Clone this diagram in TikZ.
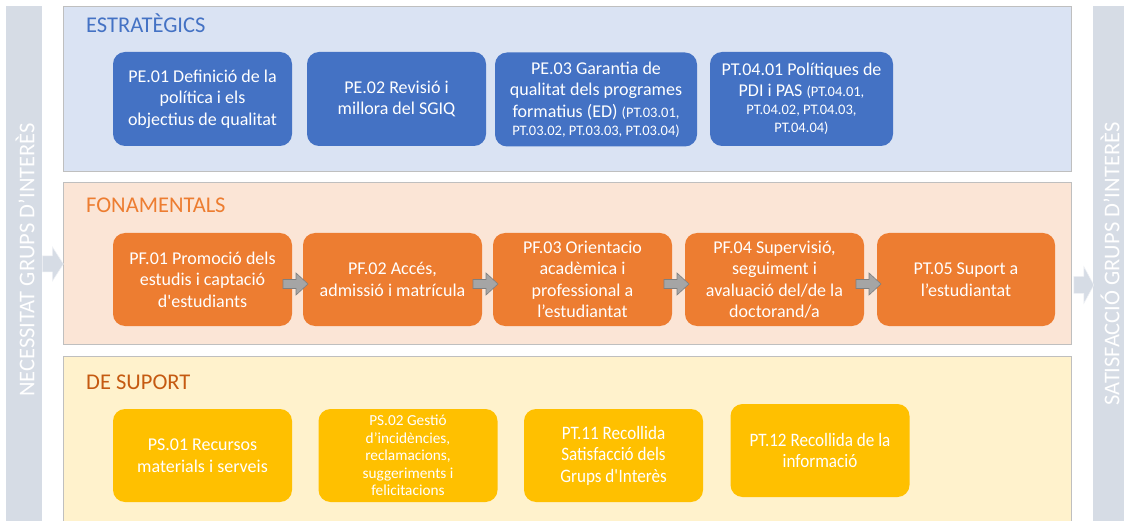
\documentclass[tikz,border=0pt]{standalone}
\usepackage{fontspec}
\setmainfont{Carlito}
\newfontfamily\narrowfont[FakeStretch=0.9]{Carlito}
\usetikzlibrary{calc}
\definecolor{barcol}{HTML}{D6DCE5}
\definecolor{estbg}{HTML}{DAE3F3}
\definecolor{fonbg}{HTML}{FBE5D6}
\definecolor{supbg}{HTML}{FFF2CC}
\definecolor{panelline}{HTML}{BFBFBF}
\definecolor{blu}{HTML}{4472C4}
\definecolor{ora}{HTML}{ED7D31}
\definecolor{yel}{HTML}{FFC000}
\definecolor{darkora}{HTML}{C55A11}
\definecolor{garrowfill}{HTML}{A5A5A5}
\definecolor{garrowline}{HTML}{7F7F7F}
\begin{document}
\begin{tikzpicture}[x=1pt,y=-1pt,
  panel/.style={draw=panelline, line width=0.8pt, anchor=north west, inner sep=0pt, minimum width=1008pt},
  sidebar/.style={fill=barcol, anchor=north west, inner sep=0pt, minimum width=36pt, minimum height=520pt},
  bartext/.style={text=white, font=\fontsize{22.5}{24}\selectfont, rotate=90, inner sep=0pt},
  heading/.style={anchor=base west, inner sep=0pt, font=\fontsize{22.5}{26}\selectfont},
  procbox/.style={rounded corners=12pt, align=center, text=white, inner sep=0pt,
     minimum width=179pt, minimum height=94pt, font=\fontsize{18}{21.5}\selectfont},
  bluebox/.style={procbox, fill=blu},
  orabox/.style={procbox, fill=ora, minimum height=93pt},
  yelbox/.style={procbox, fill=yel, minimum height=93pt},
  garrow/.style={fill=garrowfill, draw=garrowline, line width=0.6pt, line join=miter},
  sidearrow/.style={fill=barcol, draw=white!60!barcol, line width=0.5pt}
]
\useasboundingbox (0,0) rectangle (1124,521);
\fill[white] (0,0) rectangle (1124,521);

% side bars
\node[sidebar] (lbar) at (6,6) {};
\node[sidebar] (rbar) at (1093,6) {};
\node[bartext] (ltext) at (25,260) {NECESSITAT GRUPS D’INTERÈS};
\node[bartext] (rtext) at (1110,264) {SATISFACCIÓ GRUPS D’INTERÈS};

% panels
\node[panel, fill=estbg, minimum height=165pt] (est) at (63,6) {};
\node[panel, fill=fonbg, minimum height=162pt] (fon) at (63,182) {};
\node[panel, fill=supbg, minimum height=175pt] (sup) at (63,356) {};

% headings
\node[heading, text=blu] (hest) at (86,33) {ESTRATÈGICS};
\node[heading, text=ora] (hfon) at (86,213) {FONAMENTALS};
\node[heading, text=darkora] (hsup) at (86,389) {DE SUPORT};

% strategic
\node[bluebox] (PE01) at (202.5,99) {PE.01 Definició de la\\política i els\\objectius de qualitat};
\node[bluebox] (PE02) at (396.5,99) {PE.02 Revisió i\\millora del SGIQ};
\node[bluebox, minimum width=202pt] (PE03) at (596,99.5) {PE.03 Garantia de\\qualitat dels programes\\formatius (ED) {\fontsize{14.5}{21.5}\selectfont (PT.03.01,}\\[-3.5pt]{\fontsize{14.5}{17}\selectfont PT.03.02, PT.03.03, PT.03.04)}};
\node[bluebox, minimum width=183pt] (PT0401) at (801.5,99) {PT.04.01 Polítiques de\\PDI i PAS {\fontsize{14.5}{21.5}\selectfont (PT.04.01,}\\[-3.5pt]{\fontsize{14.5}{17}\selectfont PT.04.02, PT.04.03,}\\[-3.5pt]{\fontsize{14.5}{17}\selectfont PT.04.04)}};

% fundamentals
\node[orabox] (PF01) at (202.5,279.5) {PF.01 Promoció dels\\estudis i captació\\d\textquotesingle estudiants};
\node[orabox] (PF02) at (392.5,279.5) {PF.02 Accés,\\admissió i matrícula};
\node[orabox] (PF03) at (582.5,279.5) {PF.03 Orientacio\\acadèmica i\\professional a\\l’estudiantat};
\node[orabox] (PF04) at (774.5,279.5) {PF.04 Supervisió,\\seguiment i\\avaluació del/de la\\doctorand/a};
\node[orabox, minimum width=178pt] (PT05) at (966,279.5) {PT.05 Suport a\\l’estudiantat};

% support
\node[yelbox] (PS01) at (202.5,455.5) {PS.01 Recursos\\materials i serveis};
\node[yelbox, font=\fontsize{15.3}{17.5}\selectfont] (PS02) at (408,455.5) {PS.02 Gestió\\d’incidències,\\reclamacions,\\suggeriments i\\felicitacions};
\node[yelbox, font=\narrowfont\fontsize{19}{21.5}\selectfont] (PT11) at (613.5,455.5) {PT.11 Recollida\\Satisfacció dels\\Grups d\textquotesingle Interès};
\node[yelbox, font=\narrowfont\fontsize{19}{21.5}\selectfont] (PT12) at (820,450.5) {PT.12 Recollida de la\\informació};

% grey block arrows between fundamental processes
\foreach \a/\b in {PF01/PF02,PF02/PF03,PF03/PF04,PF04/PT05}{
  \coordinate (m) at ($(\a.east)!0.5!(\b.west)$);
  \draw[garrow] (m) ++(-14.5,0) -- ++(13,0) -- ++(0,-6.5) -- ++(12,11) -- ++(-12,11) -- ++(0,-6.5) -- ++(-13,0) -- cycle;
}

% side arrows
\coordinate (lin) at (lbar.east |- 0,264);
\draw[sidearrow] (lin) ++(0,-8) -- ++(10,0) -- ++(0,-9) -- ++(11,17) -- ++(-11,17) -- ++(0,-9) -- ++(-10,0) -- cycle;
\coordinate (rin) at ($(fon.east |- 0,285)+(2,0)$);
\draw[sidearrow] (rin) ++(0,-8.5) -- ++(10,0) -- ++(0,-10) -- ++(10,18.5) -- ++(-10,18.5) -- ++(0,-10) -- ++(-10,0) -- cycle;
\end{tikzpicture}
\end{document}
